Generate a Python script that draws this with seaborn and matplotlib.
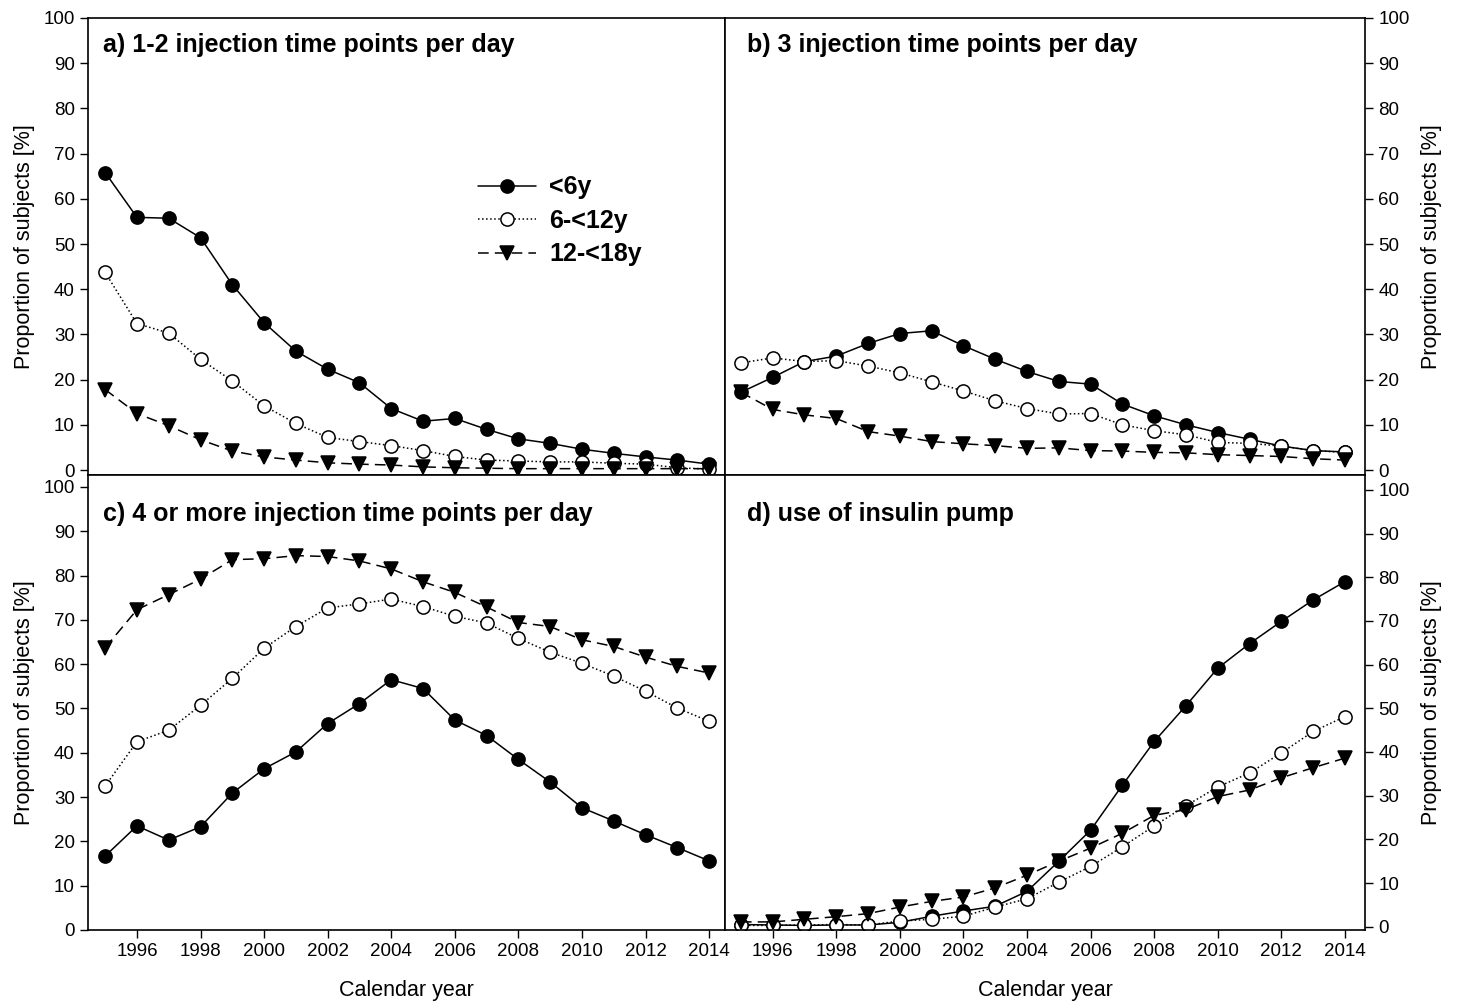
import matplotlib
matplotlib.use("Agg")
import matplotlib.pyplot as plt
import seaborn as sns
import pandas as pd

# Calendar years (x axis)
years = [1995, 1996, 1997, 1998, 1999, 2000, 2001, 2002, 2003, 2004,
         2005, 2006, 2007, 2008, 2009, 2010, 2011, 2012, 2013, 2014]

# a) 1-2 injection time points per day
a_lt6 = [65.8, 55.9, 55.7, 51.4, 41.0, 32.6, 26.3, 22.3, 19.3, 13.6,
         10.8, 11.4, 9.0, 6.9, 5.9, 4.6, 3.7, 2.9, 2.2, 1.3]
a_6to12 = [43.7, 32.4, 30.3, 24.5, 19.7, 14.2, 10.3, 7.2, 6.3, 5.4,
           4.3, 3.0, 2.2, 2.0, 1.8, 1.8, 1.5, 1.3, 0.5, 0.2]
a_12to18 = [17.8, 12.5, 9.8, 6.7, 4.2, 2.9, 2.2, 1.6, 1.3, 1.1,
            0.7, 0.5, 0.4, 0.3, 0.3, 0.3, 0.3, 0.3, 0.3, 0.3]

# b) 3 injection time points per day
b_lt6 = [17.2, 20.5, 24.0, 25.2, 28.0, 30.2, 30.8, 27.5, 24.5, 21.8,
         19.6, 19.0, 14.6, 12.0, 10.0, 8.3, 6.8, 5.3, 4.3, 4.0]
b_6to12 = [23.7, 24.8, 24.0, 24.2, 23.0, 21.5, 19.5, 17.5, 15.3, 13.6,
           12.4, 12.5, 10.0, 8.7, 7.8, 6.1, 5.9, 5.3, 4.3, 3.9]
b_12to18 = [17.2, 13.4, 12.2, 11.4, 8.5, 7.5, 6.3, 5.8, 5.4, 4.8,
            4.9, 4.3, 4.2, 3.9, 3.8, 3.4, 3.2, 3.0, 2.5, 2.2]

# c) 4 or more injection time points per day
c_lt6 = [16.7, 23.5, 20.3, 23.3, 30.9, 36.4, 40.2, 46.6, 51.1, 56.5,
         54.5, 47.4, 43.9, 38.5, 33.4, 27.6, 24.6, 21.5, 18.6, 15.6]
c_6to12 = [32.5, 42.5, 45.1, 50.7, 56.8, 63.6, 68.5, 72.7, 73.6, 74.7,
           73.0, 70.8, 69.3, 65.8, 62.7, 60.2, 57.3, 53.9, 50.1, 47.1]
c_12to18 = [63.7, 72.3, 75.7, 79.2, 83.6, 83.8, 84.5, 84.3, 83.3, 81.5,
            78.6, 76.2, 72.9, 69.4, 68.5, 65.5, 64.0, 61.6, 59.5, 58.0]

# d) use of insulin pump
d_lt6 = [0.5, 0.4, 0.3, 0.4, 0.4, 1.0, 2.4, 3.6, 4.7, 8.1,
         15.0, 22.1, 32.4, 42.4, 50.6, 59.2, 64.8, 69.9, 74.8, 79.0]
d_6to12 = [0.3, 0.3, 0.4, 0.5, 0.4, 1.3, 1.7, 2.4, 4.5, 6.4,
           10.2, 13.8, 18.3, 23.1, 27.7, 32.0, 35.2, 39.8, 44.7, 48.1]
d_12to18 = [1.1, 1.1, 1.7, 2.3, 3.0, 4.5, 5.8, 6.8, 8.9, 11.8,
            15.0, 18.0, 21.4, 25.5, 26.8, 29.8, 31.3, 34.1, 36.4, 38.6]

groups = ['<6y', '6-<12y', '12-<18y']
titles = ['a) 1-2 injection time points per day',
          'b) 3 injection time points per day',
          'c) 4 or more injection time points per day',
          'd) use of insulin pump']
panel_data = [
    [a_lt6, a_6to12, a_12to18],
    [b_lt6, b_6to12, b_12to18],
    [c_lt6, c_6to12, c_12to18],
    [d_lt6, d_6to12, d_12to18],
]

styles = {
    '<6y': dict(linestyle='-', marker='o', markerfacecolor='black'),
    '6-<12y': dict(linestyle=':', marker='o', markerfacecolor='white'),
    '12-<18y': dict(linestyle=(0, (7, 4)), marker='v', markerfacecolor='black'),
}

sns.set_style("ticks")
plt.rcParams['font.family'] = ['Liberation Sans', 'DejaVu Sans']
plt.rcParams['text.color'] = 'black'
plt.rcParams['axes.labelcolor'] = 'black'

fig = plt.figure(figsize=(14.6, 10.07), dpi=100)

W, H = 1460.0, 1007.0
# axes boxes in pixels: (left, top, right, bottom)
boxes = [(88, 18, 725, 475), (725, 18, 1365, 475),
         (88, 475, 725, 930), (725, 475, 1365, 930)]
ylims = [(-1.1, 100), (-1.1, 100), (0, 102.7), (-0.75, 103.4)]
xlims = [(1994.46, 2014.5), (1994.5, 2014.63), (1994.46, 2014.5), (1994.5, 2014.63)]

axes = []
for i, (l, t, r, b) in enumerate(boxes):
    ax = fig.add_axes([l / W, 1 - b / H, (r - l) / W, (b - t) / H])
    axes.append(ax)
    df = pd.DataFrame({'Year': years * 3,
                       'Value': panel_data[i][0] + panel_data[i][1] + panel_data[i][2],
                       'Group': [g for g in groups for _ in years]})
    for g in groups:
        sub = df[df['Group'] == g]
        sns.lineplot(data=sub, x='Year', y='Value', ax=ax, color='black',
                     linewidth=1.1, markersize=9.5, markeredgecolor='black',
                     markeredgewidth=1.1, label=g if i == 0 else None,
                     legend=False, **styles[g])
    ax.set_xlim(*xlims[i])
    ax.set_ylim(*ylims[i])
    ax.set_yticks(range(0, 101, 10))
    ax.set_xticks(range(1996, 2015, 2))
    for s in ax.spines.values():
        s.set_visible(True)
        s.set_linewidth(1.2)
        s.set_color('black')
    ax.text(0.024 if i % 2 == 0 else 0.035, 0.94 if i < 2 else 0.915, titles[i],
            transform=ax.transAxes, fontsize=18, fontweight='bold',
            ha='left', va='center', color='black')
    ax.set_xlabel('')
    ax.set_ylabel('')
    ax.tick_params(axis='both', labelsize=13.5, direction='out', length=6,
                   width=1.0, colors='black')
    if i < 2:
        ax.tick_params(axis='x', bottom=False, labelbottom=False)
    else:
        ax.set_xlabel('Calendar year', fontsize=15.5, labelpad=14)
    if i % 2 == 0:
        ax.tick_params(axis='y', left=True, labelleft=True, right=False, labelright=False)
        ax.set_ylabel('Proportion of subjects [%]', fontsize=15.5, labelpad=6)
    else:
        ax.tick_params(axis='y', left=False, labelleft=False, right=True, labelright=True)
        ax.yaxis.set_label_position('right')
        ax.set_ylabel('Proportion of subjects [%]', fontsize=15.5, labelpad=8,
                      rotation=90)

# legend in panel a
handles, labels = axes[0].get_legend_handles_labels()
leg = axes[0].legend(handles, labels, loc='upper left', bbox_to_anchor=(0.593, 0.683),
                     frameon=False, borderpad=0, handlelength=2.3, labelspacing=0.38,
                     handletextpad=0.55, prop={'size': 18, 'weight': 'bold'})

fig.savefig('out.png', dpi=100, facecolor='white')
